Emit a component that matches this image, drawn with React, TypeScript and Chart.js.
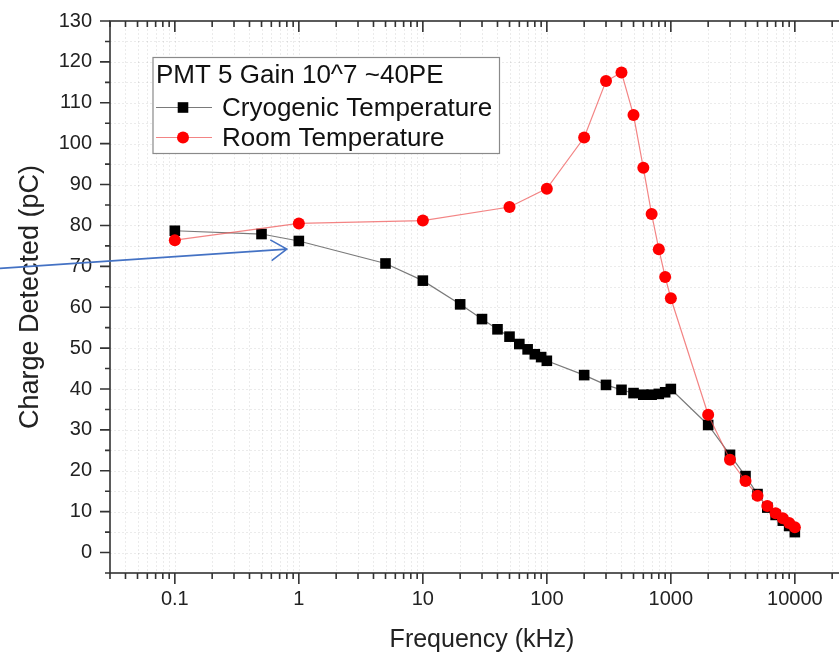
import React, { useEffect, useRef } from 'react';
import { Chart, registerables } from 'chart.js';

Chart.register(...registerables);

// ---- Data ----
const cryoFreq = [0.1, 0.5, 1, 5, 10, 20, 30, 40, 50, 60, 70, 80, 90, 100, 200, 300, 400, 500, 600, 700, 800, 900, 1000, 2000, 3000, 4000, 5000, 6000, 7000, 8000, 9000, 10000];
const cryoCharge = [78.7, 77.9, 76.2, 70.7, 66.5, 60.7, 57.1, 54.6, 52.8, 51.0, 49.7, 48.5, 47.8, 46.9, 43.4, 41.0, 39.8, 39.0, 38.6, 38.6, 38.8, 39.2, 40.0, 31.2, 23.9, 18.7, 14.3, 11.0, 9.2, 7.8, 6.5, 5.0];

const roomFreq = [0.1, 1, 10, 50, 100, 200, 300, 400, 500, 600, 700, 800, 900, 1000, 2000, 3000, 4000, 5000, 6000, 7000, 8000, 9000, 10000];
const roomCharge = [76.4, 80.5, 81.2, 84.5, 89.0, 101.5, 115.3, 117.4, 107.0, 94.1, 82.8, 74.2, 67.4, 62.2, 33.7, 22.7, 17.5, 13.9, 11.4, 9.6, 8.4, 7.2, 6.2];

const xLabels = ['0.1', '1', '10', '100', '1000', '10000'];
const xMin = 0.03;
const xMax = 30000;
const yMin = -5;
const yMax = 130;
const yStep = 5;

const legendTitle = 'PMT 5 Gain 10^7 ~40PE';
const cryoName = 'Cryogenic Temperature';
const roomName = 'Room Temperature';
const xTitle = 'Frequency (kHz)';
const yTitle = 'Charge Detected (pC)';

// arrow annotation (data coords of tip, value at left edge for tail)
const arrowTip = { x: 0.8, y: 74.2 };
const arrowTailY = 69.5;

// ---- Layout ----
const W = 880;
const H = 655;
const PLOT_LEFT = 110;
const PLOT_RIGHT = 854;
const PLOT_TOP = 21;
const PLOT_BOTTOM = 573;
const FONT = 'Arial, "Liberation Sans", sans-serif';

function buildXTicks(): number[] {
  const out: number[] = [];
  for (let e = -2; e <= 4; e++) {
    for (let m = 1; m <= 9; m++) {
      const v = parseFloat((m * Math.pow(10, e)).toPrecision(6));
      if (v >= xMin - 1e-9 && v <= xMax + 1e-9) out.push(v);
    }
  }
  return out;
}
const xTickValues = buildXTicks();
const isDecade = (v: number) => {
  const l = Math.log10(v);
  return Math.abs(l - Math.round(l)) < 1e-6;
};

const framePlugin = {
  id: 'framePlugin',
  beforeDatasetsDraw(chart: any) {
    const { ctx, chartArea, scales } = chart;
    const { left, right, top, bottom } = chartArea;
    ctx.save();
    ctx.strokeStyle = 'rgba(0,0,0,0.08)';
    ctx.lineWidth = 1;
    ctx.setLineDash([2, 2]);
    for (const v of xTickValues) {
      const px = Math.round(scales.x.getPixelForValue(v)) + 0.5;
      if (px <= left + 1 || px >= right - 1) continue;
      ctx.beginPath();
      ctx.moveTo(px, top);
      ctx.lineTo(px, bottom);
      ctx.stroke();
    }
    for (let v = yMin; v <= yMax; v += yStep) {
      const py = Math.round(scales.y.getPixelForValue(v)) + 0.5;
      if (py <= top + 1 || py >= bottom - 1) continue;
      ctx.beginPath();
      ctx.moveTo(left, py);
      ctx.lineTo(right, py);
      ctx.stroke();
    }
    ctx.restore();
  },
  afterDraw(chart: any) {
    const { ctx, chartArea, scales } = chart;
    const { left, right, top, bottom } = chartArea;
    ctx.save();
    ctx.setLineDash([]);
    ctx.strokeStyle = '#333';
    ctx.lineWidth = 1.6;
    // frame
    ctx.strokeRect(left, top, right - left, bottom - top);
    // x ticks (bottom outward, top inward)
    for (const v of xTickValues) {
      const px = scales.x.getPixelForValue(v);
      const len = isDecade(v) ? 11 : 6;
      ctx.beginPath();
      ctx.moveTo(px, bottom);
      ctx.lineTo(px, bottom + len);
      ctx.moveTo(px, top);
      ctx.lineTo(px, top + len);
      ctx.stroke();
    }
    // y ticks (left outward, right inward)
    for (let v = yMin; v <= yMax; v += yStep) {
      const py = scales.y.getPixelForValue(v);
      const len = v % 10 === 0 ? 10 : 5;
      ctx.beginPath();
      ctx.moveTo(left, py);
      ctx.lineTo(left - len, py);
      ctx.moveTo(right, py);
      ctx.lineTo(right - len, py);
      ctx.stroke();
    }
    ctx.restore();

    // legend box
    const bx = left + 43;
    const by = top + 36.5;
    const bw = 346.5;
    const bh = 96;
    ctx.save();
    ctx.fillStyle = '#fff';
    ctx.fillRect(bx, by, bw, bh);
    ctx.strokeStyle = '#8a8a8a';
    ctx.lineWidth = 1.2;
    ctx.strokeRect(bx, by, bw, bh);
    ctx.fillStyle = '#111';
    ctx.font = `26px ${FONT}`;
    ctx.textBaseline = 'middle';
    ctx.textAlign = 'left';
    ctx.fillText(legendTitle, bx + 3, by + 18);
    // cryo row
    const r1 = by + 50;
    ctx.strokeStyle = '#7a7a7a';
    ctx.lineWidth = 1.2;
    ctx.beginPath();
    ctx.moveTo(bx + 3, r1);
    ctx.lineTo(bx + 59, r1);
    ctx.stroke();
    ctx.fillStyle = '#000';
    ctx.fillRect(bx + 30 - 5.3, r1 - 5.3, 10.6, 10.6);
    ctx.fillStyle = '#111';
    ctx.fillText(cryoName, bx + 69, r1 + 1);
    // room row
    const r2 = by + 80;
    ctx.strokeStyle = 'rgba(238,80,80,0.7)';
    ctx.beginPath();
    ctx.moveTo(bx + 3, r2);
    ctx.lineTo(bx + 59, r2);
    ctx.stroke();
    ctx.fillStyle = '#ff0000';
    ctx.beginPath();
    ctx.arc(bx + 30, r2, 6, 0, Math.PI * 2);
    ctx.fill();
    ctx.fillStyle = '#111';
    ctx.fillText(roomName, bx + 69, r2 + 1);
    ctx.restore();

    // arrow annotation
    const tx = scales.x.getPixelForValue(arrowTip.x);
    const ty = scales.y.getPixelForValue(arrowTip.y);
    const sx = 0;
    const sy = scales.y.getPixelForValue(arrowTailY);
    const ang = Math.atan2(ty - sy, tx - sx);
    const hl = 19;
    const ha = 0.58;
    ctx.save();
    ctx.strokeStyle = '#4472c4';
    ctx.lineWidth = 1.6;
    ctx.beginPath();
    ctx.moveTo(sx, sy);
    ctx.lineTo(tx, ty);
    ctx.moveTo(tx - hl * Math.cos(ang - ha), ty - hl * Math.sin(ang - ha));
    ctx.lineTo(tx, ty);
    ctx.lineTo(tx - hl * Math.cos(ang + ha), ty - hl * Math.sin(ang + ha));
    ctx.stroke();
    ctx.restore();
  },
};

export default function App() {
  const ref = useRef<HTMLCanvasElement>(null);
  useEffect(() => {
    const canvas = ref.current;
    if (!canvas) return;
    const chart = new Chart(canvas, {
      type: 'line',
      data: {
        datasets: [
          {
            label: roomName,
            data: roomFreq.map((f, i) => ({ x: f, y: roomCharge[i] })),
            borderColor: 'rgba(238,80,80,0.7)',
            borderWidth: 1.2,
            pointStyle: 'circle',
            pointRadius: 6,
            pointBackgroundColor: '#ff0000',
            pointBorderColor: '#ff0000',
            pointBorderWidth: 0,
            tension: 0,
          },
          {
            label: cryoName,
            data: cryoFreq.map((f, i) => ({ x: f, y: cryoCharge[i] })),
            borderColor: '#7a7a7a',
            borderWidth: 1.2,
            pointStyle: 'rect',
            pointRadius: 7.5,
            pointBackgroundColor: '#000',
            pointBorderColor: '#000',
            pointBorderWidth: 0,
            tension: 0,
          },
        ],
      },
      options: {
        responsive: false,
        animation: false,
        events: [],
        layout: { padding: { left: 0, right: W - PLOT_RIGHT, top: PLOT_TOP, bottom: 0 } },
        plugins: { legend: { display: false }, tooltip: { enabled: false } },
        scales: {
          x: {
            type: 'logarithmic',
            min: xMin,
            max: xMax,
            afterBuildTicks: (s: any) => {
              s.ticks = xTickValues.map((v) => ({ value: v }));
            },
            afterFit: (s: any) => {
              s.height = H - PLOT_BOTTOM;
              s.paddingLeft = 0;
              s.paddingRight = 0;
              s.paddingTop = 0;
              s.paddingBottom = 0;
            },
            grid: { display: false, drawTicks: false },
            border: { display: false },
            ticks: {
              autoSkip: false,
              maxRotation: 0,
              minRotation: 0,
              padding: 14,
              color: '#222',
              font: { size: 20, family: FONT },
              callback: (v: any) => {
                const n = Number(v);
                if (!isDecade(n)) return '';
                const idx = Math.round(Math.log10(n)) + 1;
                return xLabels[idx] ?? '';
              },
            },
            title: {
              display: true,
              text: xTitle,
              color: '#222',
              font: { size: 25, family: FONT },
              padding: { top: 0, bottom: 0 },
            },
          },
          y: {
            type: 'linear',
            min: yMin,
            max: yMax,
            afterFit: (s: any) => {
              s.width = PLOT_LEFT;
              s.paddingLeft = 0;
              s.paddingRight = 0;
              s.paddingTop = 0;
              s.paddingBottom = 0;
            },
            grid: { display: false, drawTicks: false },
            border: { display: false },
            ticks: {
              stepSize: yStep,
              autoSkip: false,
              padding: 18,
              color: '#222',
              font: { size: 20, family: FONT },
              callback: (v: any) => (Number(v) % 10 === 0 ? String(v) : ''),
            },
            title: {
              display: true,
              text: yTitle,
              color: '#222',
              font: { size: 27, family: FONT },
              padding: { top: 14, bottom: 0 },
            },
          },
        },
      },
      plugins: [framePlugin],
    } as any);
    return () => chart.destroy();
  }, []);

  return (
    <div
      style={{
        position: 'fixed',
        left: 0,
        top: 0,
        width: 839,
        height: 655,
        overflow: 'hidden',
        background: '#fff',
      }}
    >
      <canvas ref={ref} width={W} height={H} style={{ display: 'block', width: W, height: H }} />
    </div>
  );
}
